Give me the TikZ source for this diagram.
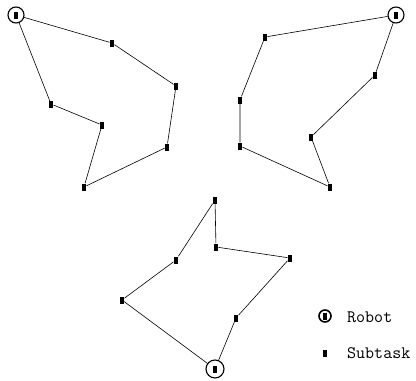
\documentclass[tikz,border=0pt]{standalone}
\usepackage{tikz}
\tikzset{
  task/.style={rectangle, fill=black, minimum width=4.6pt, minimum height=7pt, inner sep=0pt},
  robot/.style={circle, draw, line width=1.1pt, minimum size=#1, inner sep=0pt,
    path picture={\fill (path picture bounding box.center) +(-2.3pt,-3.5pt) rectangle +(2.3pt,3.5pt);}},
  robot/.default=16pt,
  route/.style={line width=0.6pt, shorten >=-0.5pt, shorten <=-0.5pt},
  legendtext/.style={anchor=west, inner sep=0pt, font=\ttfamily\fontsize{17.5}{17.5}\selectfont}
}
\begin{document}
\begin{tikzpicture}[x=1pt,y=-1pt]
\useasboundingbox (0,0) rectangle (416,381);

% ---- upper-left team ----
\node[robot] (r1) at (16,15) {};
\node[task] (a1) at (112,43) {};
\node[task] (a2) at (176,86) {};
\node[task] (a3) at (167,147) {};
\node[task] (a4) at (84,187) {};
\node[task] (a5) at (102,125) {};
\node[task] (a6) at (51,104) {};
\draw[route] (r1) -- (a1) -- (a2) -- (a3) -- (a4) -- (a5) -- (a6) -- (r1);

% ---- upper-right team ----
\node[robot] (r2) at (396,15) {};
\node[task] (b1) at (265,37) {};
\node[task] (b2) at (240,100) {};
\node[task] (b3) at (240,146) {};
\node[task] (b4) at (330,187) {};
\node[task] (b5) at (311,137) {};
\node[task] (b6) at (375,75) {};
\draw[route] (r2) -- (b1) -- (b2) -- (b3) -- (b4) -- (b5) -- (b6) -- (r2);

% ---- lower team ----
\node[robot=18pt] (r3) at (215,369) {};
\node[task] (c1) at (236,318) {};
\node[task] (c2) at (290,258) {};
\node[task] (c3) at (216,247) {};
\node[task] (c4) at (215,200) {};
\node[task] (c5) at (176,260) {};
\node[task] (c6) at (122,300) {};
\draw[route] (r3) -- (c1) -- (c2) -- (c3) -- (c4) -- (c5) -- (c6) -- (r3);

% ---- legend ----
\node[robot=12pt, line width=1.6pt] (lr) at (325,316) {};
\node[legendtext] (lrt) at (347,317) {Robot};
\node[task] (lt) at (325,353) {};
\node[legendtext] (ltt) at (347,353) {Subtask};
\end{tikzpicture}
\end{document}
